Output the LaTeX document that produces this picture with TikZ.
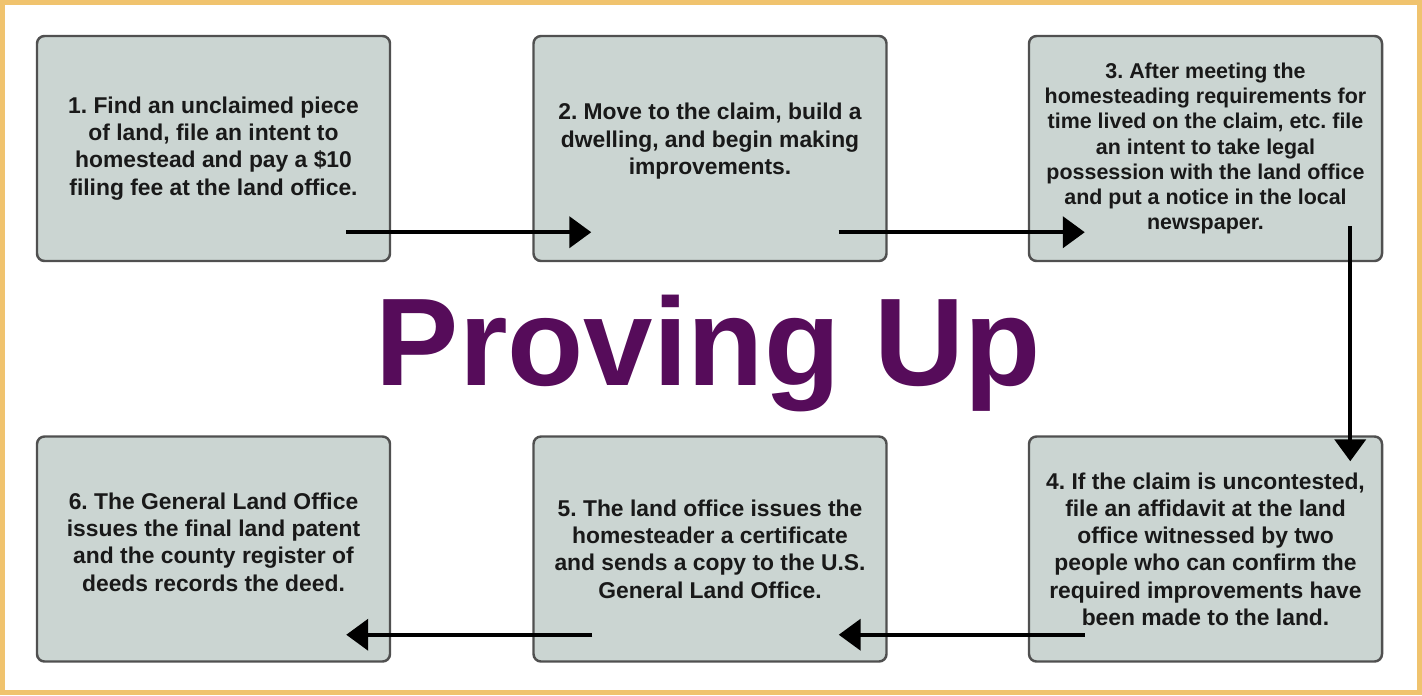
\documentclass[tikz,border=0pt]{standalone}
\usepackage{fontspec}
\setmainfont{Liberation Sans}
\frenchspacing
\usetikzlibrary{arrows.meta,positioning,calc}
\definecolor{cFrame}{HTML}{F0C36E}
\definecolor{cStep}{HTML}{CBD5D2}
\definecolor{cEdge}{HTML}{505050}
\definecolor{cTitle}{HTML}{560C5A}

\begin{document}
\begin{tikzpicture}[
    font=\bfseries\fontsize{13}{15.5}\selectfont,
    stepbox/.style={draw=cEdge, line width=1.4pt, rounded corners=1.5mm, fill=cStep, align=center,
        minimum width=7.06cm, minimum height=4.5cm, inner sep=0pt, text=black!90},
    arr/.style={-{Triangle[length=4.4mm, width=6.2mm]}, line width=2.4pt, draw=black}
]
\useasboundingbox (0,0) rectangle (28.44,13.9);
\draw[cFrame, line width=1mm] (0.05,0.05) rectangle (28.39,13.85);

\node[stepbox] (s1) at (4.27,10.93) {1. Find an unclaimed piece\\of land, file an intent to\\homestead and pay a \$10\\filing fee at the land office.};
\node[stepbox, text depth=11pt] (s2) at (14.20,10.93) {2. Move to the claim, build a\\dwelling, and begin making\\improvements.};
\node[stepbox, font=\bfseries\fontsize{12.2}{14.3}\selectfont] (s3) at (24.11,10.93) {3. After meeting the\\homesteading requirements for\\time lived on the claim, etc. file\\an intent to take legal\\possession with the land office\\and put a notice in the local\\newspaper.};
\node[stepbox] (s4) at (24.11,2.92) {4. If the claim is uncontested,\\file an affidavit at the land\\office witnessed by two\\people who can confirm the\\required improvements have\\been made to the land.};
\node[stepbox] (s5) at (14.20,2.92) {5. The land office issues the\\homesteader a certificate\\and sends a copy to the U.S.\\General Land Office.};
\node[stepbox, text depth=8pt] (s6) at (4.27,2.92) {6. The General Land Office\\issues the final land patent\\and the county register of\\deeds records the deed.};

\node[font=\bfseries\fontsize{71}{80}\selectfont, text=cTitle, anchor=base] (title) at (14.17,6.2) {Proving Up};

\draw[arr] ([shift={(-0.9,0.6)}]s1.south east) -- ([shift={(1.18,0.6)}]s2.south west);
\draw[arr] ([shift={(-0.98,0.6)}]s2.south east) -- ([shift={(1.14,0.6)}]s3.south west);
\draw[arr] ([shift={(-0.66,0.72)}]s3.south east) -- ([shift={(-0.66,-0.52)}]s4.north east);
\draw[arr] ([shift={(1.14,0.56)}]s4.south west) -- ([shift={(-0.98,0.56)}]s5.south east);
\draw[arr] ([shift={(1.2,0.56)}]s5.south west) -- ([shift={(-0.9,0.56)}]s6.south east);

\end{tikzpicture}
\end{document}
